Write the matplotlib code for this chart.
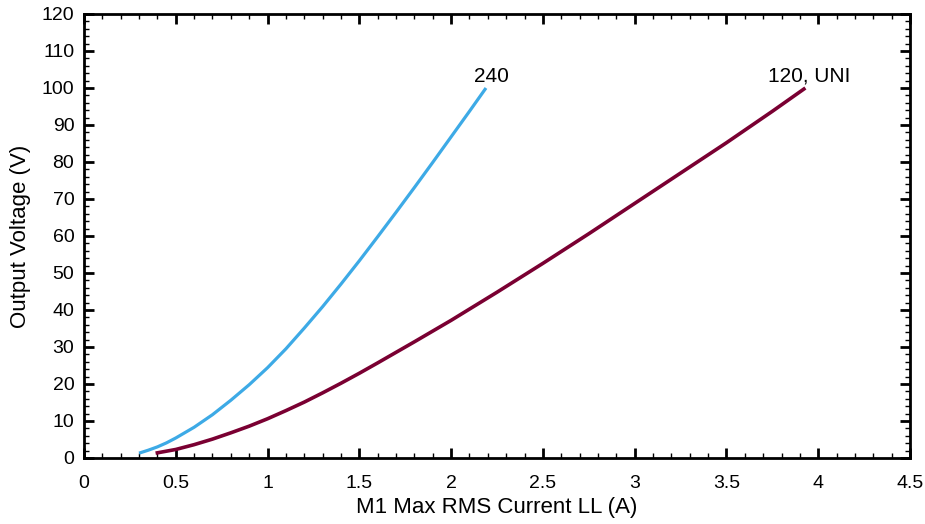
import matplotlib
matplotlib.use('Agg')
from matplotlib import pyplot as plt
from matplotlib import ticker

plt.rcParams['font.family'] = ['Liberation Sans', 'DejaVu Sans']

# values
current_240 = [0.30, 0.35, 0.40, 0.45, 0.50, 0.60, 0.70, 0.80, 0.90, 1.00, 1.10, 1.20,
               1.30, 1.40, 1.50, 1.60, 1.70, 1.80, 1.90, 2.00, 2.10, 2.19]
voltage_240 = [1.3, 2.1, 3.0, 4.1, 5.4, 8.3, 11.7, 15.6, 19.8, 24.4, 29.5, 35.1,
               40.9, 47.0, 53.3, 59.8, 66.4, 73.1, 79.9, 86.8, 93.7, 100.0]

current_120 = [0.39, 0.50, 0.60, 0.70, 0.80, 0.90, 1.00, 1.10, 1.20, 1.30, 1.40, 1.50, 1.60,
               1.80, 2.00, 2.25, 2.50, 2.75, 3.00, 3.25, 3.50, 3.75, 3.93]
voltage_120 = [1.3, 2.3, 3.6, 5.1, 6.8, 8.6, 10.6, 12.8, 15.1, 17.6, 20.2, 22.9, 25.7,
               31.4, 37.2, 44.8, 52.6, 60.6, 68.8, 77.0, 85.2, 93.7, 100.0]

label_240 = '240'
label_120 = '120, UNI'

x_label = 'M1 Max RMS Current LL (A)'
y_label = 'Output Voltage (V)'

fig = plt.figure(figsize=(9.25, 5.24), dpi=100)
ax = fig.add_axes([0.0908, 0.126, 0.893, 0.8473])

ax.plot(current_240, voltage_240, color='#3DAAE6', linewidth=2.3,
        solid_capstyle='butt', solid_joinstyle='round')
ax.plot(current_120, voltage_120, color='#7A0032', linewidth=2.6,
        solid_capstyle='butt', solid_joinstyle='round')

ax.annotate(label_240, (current_240[-1], voltage_240[-1]), xytext=(4, 4.5),
            textcoords='offset points', ha='center', va='baseline', fontsize=15)
ax.annotate(label_120, (current_120[-1], voltage_120[-1]), xytext=(3, 4.5),
            textcoords='offset points', ha='center', va='baseline', fontsize=15)

ax.set_xlim(0, 4.5)
ax.set_ylim(0, 120)
ax.xaxis.set_major_locator(ticker.MultipleLocator(0.5))
ax.xaxis.set_minor_locator(ticker.MultipleLocator(0.1))
ax.yaxis.set_major_locator(ticker.MultipleLocator(10))
ax.yaxis.set_minor_locator(ticker.MultipleLocator(2))
ax.xaxis.set_major_formatter(ticker.FuncFormatter(lambda v, p: f'{v:g}'))

ax.tick_params(which='both', direction='in', top=True, right=True, labelsize=14)
ax.tick_params(which='major', length=7, width=2)
ax.tick_params(which='minor', length=3.5, width=1)
ax.tick_params(axis='x', which='major', pad=12)
ax.tick_params(axis='y', which='major', pad=7)

for spine in ax.spines.values():
    spine.set_linewidth(2)

ax.set_xlabel(x_label, fontsize=16, labelpad=4)
ax.set_ylabel(y_label, fontsize=16, labelpad=8)

fig.savefig('out.png', dpi=100)
